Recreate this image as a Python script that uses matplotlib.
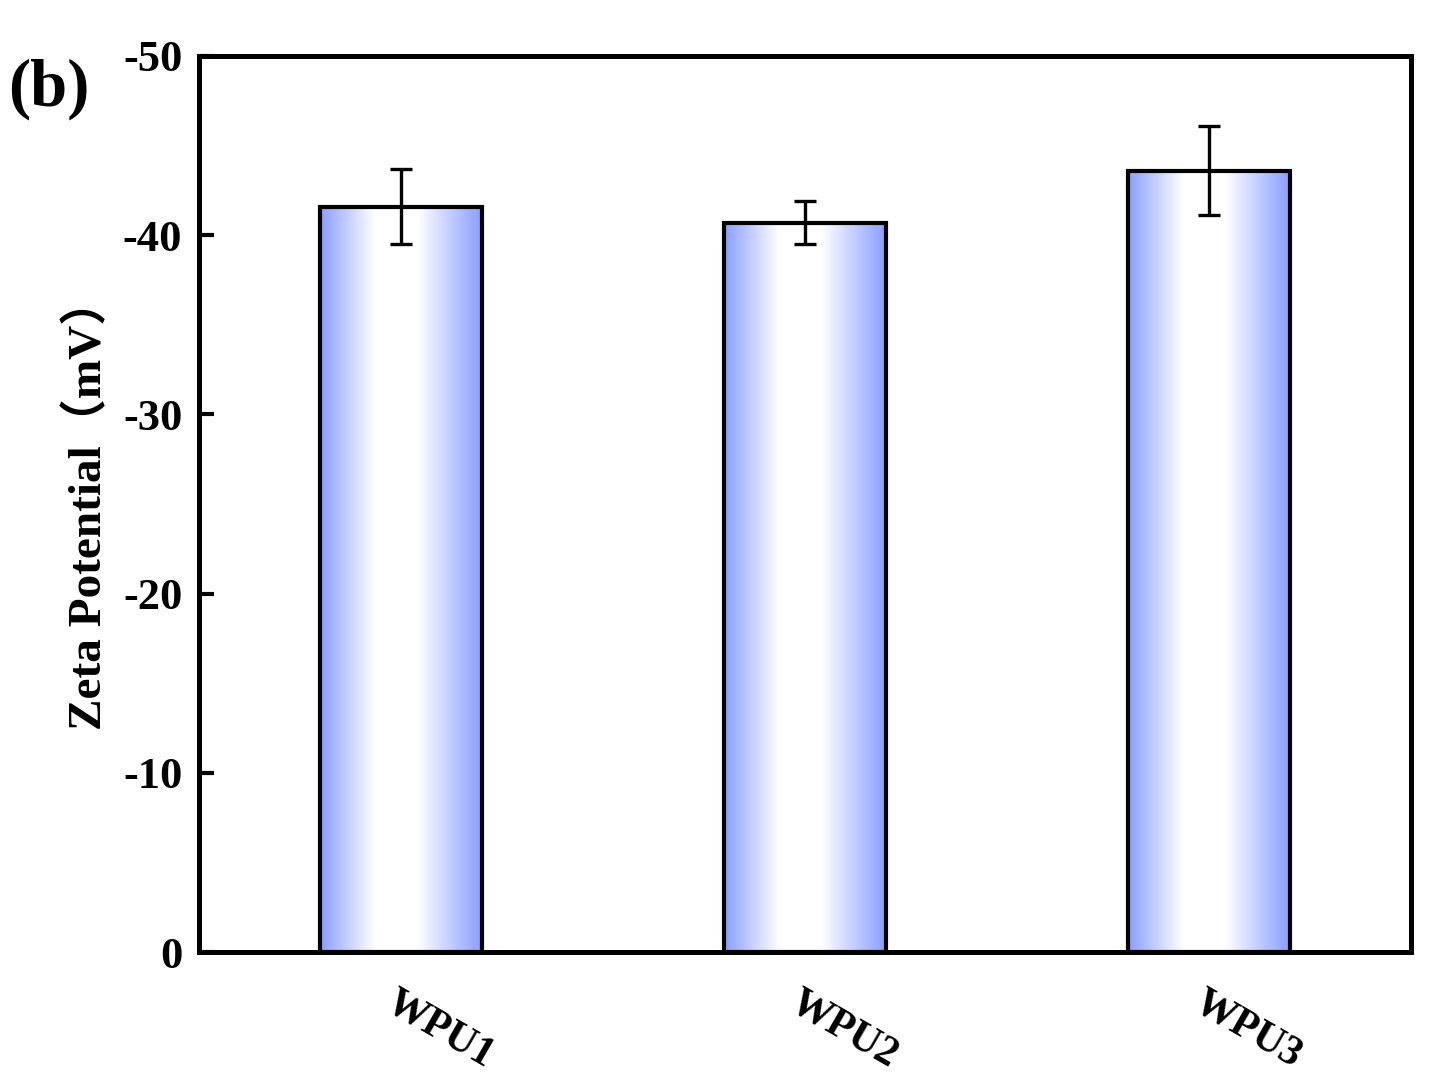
import numpy as np
import matplotlib
matplotlib.use("Agg")
import matplotlib.pyplot as plt
from matplotlib.colors import LinearSegmentedColormap

SAMPLES = ["WPU1", "WPU2", "WPU3"]
ZETA_MV = [-41.6, -40.7, -43.6]
ZETA_ERR = [2.1, 1.2, 2.5]
Y_TICKS = [0, -10, -20, -30, -40, -50]

BAR_BLUE = "#8A9EFF"
SERIF = ["Liberation Serif", "Noto Sans CJK SC", "DejaVu Sans"]

plt.rcParams["font.family"] = SERIF
plt.rcParams["font.weight"] = "bold"

gradient_cmap = LinearSegmentedColormap.from_list(
    "bar_grad",
    [(0.0, BAR_BLUE), (0.34, "#FFFFFF"), (0.6, "#FFFFFF"), (1.0, BAR_BLUE)],
)

fig = plt.figure(figsize=(14.47, 10.87), dpi=100)
ax = fig.add_axes([199 / 1447, 1 - 952 / 1087, (1411 - 199) / 1447, (952 - 56) / 1087])

x = np.arange(len(SAMPLES))
width = 0.4
grad = np.linspace(0, 1, 256).reshape(1, -1)
for xi, val in zip(x, ZETA_MV):
    ax.imshow(
        grad,
        cmap=gradient_cmap,
        aspect="auto",
        extent=(xi - width / 2, xi + width / 2, 0, val),
        zorder=1,
        interpolation="bilinear",
    )
ax.bar(x, ZETA_MV, width=width, facecolor="none", edgecolor="black", linewidth=3.0, zorder=2)
ax.errorbar(
    x, ZETA_MV, yerr=ZETA_ERR, fmt="none", ecolor="black",
    elinewidth=2.4, capsize=8, capthick=2.4, zorder=3,
)

ax.set_xlim(-0.5, 2.5)
ax.set_ylim(0, -50)
ax.set_yticks(Y_TICKS)
ax.set_yticklabels([str(t) for t in Y_TICKS])
ax.set_xticks(x)
ax.set_xticklabels([])
# rotated sample labels, shifted right and down like the original
for xi, name in zip(x, SAMPLES):
    ax.annotate(
        name, xy=(xi, 0), xycoords=ax.get_xaxis_transform(),
        xytext=(28, -56), textcoords="offset points",
        rotation=-30, ha="center", va="center", fontsize=30, fontweight="bold",
    )

ax.tick_params(axis="x", length=0)
ax.tick_params(axis="y", direction="in", length=11, width=3, labelsize=32, pad=12)
for spine in ax.spines.values():
    spine.set_linewidth(3.6)

ax.set_ylabel("Zeta Potential（mV）", fontsize=34, fontweight="bold", labelpad=8)

fig.text(8 / 1447, 1 - 89 / 1087, "(b)", fontsize=48, fontweight="bold", va="center", ha="left")

fig.savefig("out.png", dpi=100)
